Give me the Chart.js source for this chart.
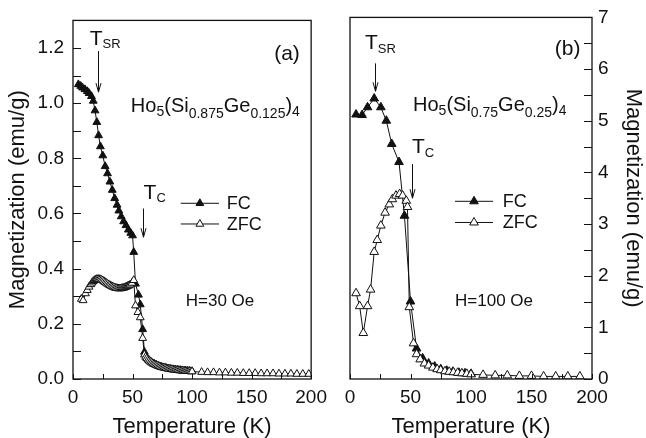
<!DOCTYPE html>
<html>
<head>
<meta charset="utf-8">
<script src="https://cdn.jsdelivr.net/npm/chart.js@4.4.1/dist/chart.umd.min.js"></script>
<style>
  html, body { margin: 0; padding: 0; background: #fff; }
  #wrap { position: relative; width: 646px; height: 438px; }
  canvas { position: absolute; top: 0; }
  #panelA { left: 0; }
  #panelB { left: 334px; }
</style>
</head>
<body>
<div id="wrap">
  <canvas id="panelA" width="334" height="438"></canvas>
  <canvas id="panelB" width="312" height="438"></canvas>
</div>
<script>
// (a) Ho5(Si0.875Ge0.125)4, H = 30 Oe
const fcTempA = [4.5, 6.5, 8, 10, 12, 13.5, 15.5, 17, 18.5, 20, 21.5, 23, 25, 27, 29, 31, 33, 35, 37, 38.5,
  40.5, 42.5, 44.5, 46.5, 48.5, 50, 51, 52.5, 55, 56.5, 58.5, 60, 62, 64, 66, 68, 70, 72, 74, 76,
  78, 80, 82, 84, 86, 88, 90, 92, 94, 96, 98, 100]
const fcMagA = [1.068, 1.062, 1.056, 1.050, 1.043, 1.036, 1.025, 1.008, 0.973, 0.931, 0.883, 0.843, 0.810, 0.771, 0.745, 0.715, 0.685, 0.655, 0.631, 0.610,
  0.589, 0.571, 0.557, 0.541, 0.529, 0.520, 0.460, 0.345, 0.305, 0.270, 0.180, 0.098, 0.077, 0.068, 0.061, 0.056, 0.051, 0.047, 0.044, 0.042,
  0.040, 0.038, 0.036, 0.035, 0.034, 0.033, 0.032, 0.031, 0.030, 0.029, 0.029, 0.028]

const zfcTempA = [7, 8.5, 10.5, 12, 13.5, 15, 16, 17, 18, 19, 20, 21, 22, 23, 24, 25, 26, 27, 28, 29,
  30, 31, 32, 33, 34, 35, 36, 37, 38, 39, 40, 41, 42, 43, 44, 45, 46, 47, 48, 49.5,
  51, 52.5, 54.5, 56.5, 58.5, 60, 61, 62, 63, 64, 65, 66, 67, 68, 69, 70, 71, 72, 73, 74,
  75, 76, 77, 78, 79, 80, 81, 82, 83, 84, 85, 86, 87, 88, 89, 90, 91, 92, 93, 94,
  95, 96, 97, 98, 99, 100, 108, 113, 118, 123, 128, 133, 138, 143, 148, 153, 158, 163, 168, 173,
  178, 183, 188, 193, 198]
const zfcMagA = [0.290, 0.285, 0.310, 0.322, 0.334, 0.343, 0.349, 0.354, 0.358, 0.360, 0.362, 0.362, 0.362, 0.361, 0.359, 0.357, 0.354, 0.351, 0.348, 0.345,
  0.342, 0.340, 0.337, 0.335, 0.333, 0.331, 0.330, 0.329, 0.328, 0.328, 0.328, 0.329, 0.330, 0.331, 0.333, 0.335, 0.337, 0.339, 0.342, 0.348,
  0.358, 0.266, 0.242, 0.223, 0.148, 0.088, 0.080, 0.075, 0.070, 0.066, 0.062, 0.059, 0.056, 0.054, 0.052, 0.050, 0.048, 0.046, 0.045, 0.043,
  0.042, 0.041, 0.040, 0.039, 0.038, 0.037, 0.036, 0.035, 0.035, 0.034, 0.033, 0.033, 0.032, 0.032, 0.031, 0.031, 0.030, 0.030, 0.029, 0.029,
  0.029, 0.028, 0.028, 0.028, 0.027, 0.027, 0.025, 0.024, 0.024, 0.023, 0.023, 0.022, 0.022, 0.021, 0.021, 0.021, 0.020, 0.020, 0.020, 0.019,
  0.019, 0.019, 0.018, 0.018, 0.018]

// (b) Ho5(Si0.75Ge0.25)4, H = 100 Oe
const fcTempB = [5, 10, 14.5, 20, 25.5, 30, 34.5, 40.5, 45, 50, 55, 60, 65, 70, 75, 80, 85, 90, 95, 100]
const fcMagB = [5.12, 5.11, 5.26, 5.43, 5.26, 5.00, 4.55, 4.20, 3.16, 1.50, 0.59, 0.40, 0.30, 0.24, 0.19, 0.16, 0.14, 0.12, 0.11, 0.10]

const zfcTempB = [5, 8, 11, 14.5, 17, 20, 22.5, 25.5, 29, 32.5, 35, 38, 41, 43.5, 46.5, 47.5, 49, 52.5, 55, 58,
  61.5, 65, 68.5, 72, 75, 78.5, 82, 85.5, 89, 92.5, 96.5, 100, 110, 120, 130, 140, 150, 160, 170, 180, 190]
const zfcMagB = [1.66, 1.41, 0.89, 1.41, 1.73, 2.46, 2.69, 2.97, 3.22, 3.38, 3.48, 3.55, 3.58, 3.55, 3.45, 3.33, 1.39, 0.69, 0.48, 0.38,
  0.30, 0.26, 0.22, 0.19, 0.17, 0.15, 0.14, 0.13, 0.12, 0.11, 0.10, 0.09, 0.08, 0.07, 0.07, 0.06, 0.06, 0.05, 0.05, 0.05, 0.05]

const FONT = '"Liberation Sans", Arial, Helvetica, sans-serif'
const INK = '#111'

function pairs(xs, ys) {
  return xs.map((x, i) => ({ x, y: ys[i] }))
}

// same geometry as Chart.js' own 'triangle' point style
function triangle(ctx, x, y, r, fill) {
  ctx.beginPath()
  ctx.moveTo(x, y - r)
  ctx.lineTo(x + r * Math.sin(2 * Math.PI / 3), y - r * Math.cos(2 * Math.PI / 3))
  ctx.lineTo(x + r * Math.sin(4 * Math.PI / 3), y - r * Math.cos(4 * Math.PI / 3))
  ctx.closePath()
  ctx.fillStyle = fill
  ctx.fill()
  ctx.stroke()
}

// text made of runs, subscripts get a smaller size and a downward shift
function drawRich(ctx, x, y, parts, align) {
  let width = 0
  parts.forEach(p => {
    ctx.font = p.size + 'px ' + FONT
    width += ctx.measureText(p.t).width
  })
  let cx = align === 'right' ? x - width : x
  ctx.textAlign = 'left'
  ctx.textBaseline = 'alphabetic'
  ctx.fillStyle = INK
  parts.forEach(p => {
    ctx.font = p.size + 'px ' + FONT
    ctx.fillText(p.t, cx, y + (p.dy || 0))
    cx += ctx.measureText(p.t).width
  })
}

// labelled ticks plus a minor one halfway between each pair
function tickValues(scale) {
  const major = scale.ticks.map(t => t.value)
  const out = []
  major.forEach((v, i) => {
    out.push(v)
    if (i < major.length - 1) out.push((v + major[i + 1]) / 2)
  })
  return out
}

function panelDecor(spec) {
  return {
    id: 'panelDecor',
    afterDraw(chart) {
      const { ctx, chartArea: a } = chart
      const xs = chart.scales.x
      const ys = chart.scales.y
      ctx.save()

      // frame
      ctx.strokeStyle = INK
      ctx.lineWidth = 1.3
      ctx.strokeRect(a.left, a.top, a.right - a.left, a.bottom - a.top)

      // ticks point inwards
      ctx.lineWidth = 1
      ctx.beginPath()
      tickValues(xs).forEach(v => {
        const px = Math.round(xs.getPixelForValue(v)) + 0.5
        ctx.moveTo(px, a.bottom)
        ctx.lineTo(px, a.bottom - 5)
      })
      const edge = spec.yRight ? a.right : a.left
      const dir = spec.yRight ? -1 : 1
      tickValues(ys).forEach(v => {
        const py = Math.round(ys.getPixelForValue(v)) + 0.5
        ctx.moveTo(edge, py)
        ctx.lineTo(edge + dir * 8, py)
      })
      ctx.stroke()

      // arrows marking the transitions
      spec.arrows.forEach(ar => {
        const px = Math.round(xs.getPixelForValue(ar.x)) + 0.5
        const y1 = ys.getPixelForValue(ar.from)
        const y2 = ys.getPixelForValue(ar.to)
        ctx.beginPath()
        ctx.moveTo(px, y1)
        ctx.lineTo(px, y2)
        ctx.moveTo(px - 2.5, y2 - 9)
        ctx.lineTo(px, y2)
        ctx.lineTo(px + 2.5, y2 - 9)
        ctx.stroke()
      })

      // labels
      spec.notes.forEach(n => {
        drawRich(ctx, xs.getPixelForValue(n.x), ys.getPixelForValue(n.y), n.parts, n.align)
      })

      // legend
      const lg = spec.legend
      const x1 = xs.getPixelForValue(lg.from)
      const x2 = xs.getPixelForValue(lg.to)
      const tx = xs.getPixelForValue(lg.textAt)
      lg.rows.forEach(row => {
        const py = ys.getPixelForValue(row.y)
        ctx.strokeStyle = INK
        ctx.lineWidth = 1
        ctx.beginPath()
        ctx.moveTo(x1, py)
        ctx.lineTo(x2, py)
        ctx.stroke()
        triangle(ctx, (x1 + x2) / 2, py, spec.pointRadius, row.fill)
        ctx.font = '18px ' + FONT
        ctx.fillStyle = INK
        ctx.textAlign = 'left'
        ctx.textBaseline = 'middle'
        ctx.fillText(row.label, tx, py + 1)
      })

      ctx.restore()
    }
  }
}

function makeChart(id, spec) {
  const pointSet = (fill) => ({
    showLine: true,
    borderColor: INK,
    borderWidth: 1,
    tension: 0,
    pointStyle: 'triangle',
    pointRadius: spec.pointRadius,
    pointBorderWidth: 1,
    pointBorderColor: INK,
    pointBackgroundColor: fill,
    backgroundColor: fill
  })

  const yTicks = {
    stepSize: spec.yStep,
    includeBounds: false,
    padding: spec.yRight ? 6 : 9,
    color: INK,
    font: { size: 19, family: FONT },
    callback: v => v.toFixed(spec.yDigits)
  }

  return new Chart(document.getElementById(id), {
    type: 'line',
    data: {
      datasets: [
        Object.assign({ label: 'ZFC', data: pairs(spec.zfcT, spec.zfcM), order: 0 }, pointSet('#fff')),
        Object.assign({ label: 'FC', data: pairs(spec.fcT, spec.fcM), order: 1 }, pointSet(INK))
      ]
    },
    options: {
      responsive: false,
      animation: false,
      events: [],
      layout: { padding: spec.padding },
      plugins: { legend: { display: false }, tooltip: { enabled: false } },
      scales: {
        x: {
          type: 'linear',
          position: 'bottom',
          min: 0,
          max: 200,
          grid: { display: false, drawTicks: false },
          border: { display: false },
          ticks: { stepSize: 50, padding: 7, maxRotation: 0, color: INK, font: { size: 19, family: FONT } },
          title: {
            display: true,
            text: 'Temperature (K)',
            color: INK,
            font: { size: 22, family: FONT, lineHeight: 1 },
            padding: { top: 0, bottom: 0 }
          },
          afterFit(scale) { scale.height = 59 }
        },
        y: {
          type: 'linear',
          position: spec.yRight ? 'right' : 'left',
          min: 0,
          max: spec.yMax,
          grid: { display: false, drawTicks: false },
          border: { display: false },
          ticks: yTicks,
          title: {
            display: true,
            text: 'Magnetization (emu/g)',
            color: INK,
            font: { size: 22, family: FONT, lineHeight: 1 },
            padding: { top: spec.yRight ? 2 : 7, bottom: 0 }
          },
          afterFit(scale) { scale.width = spec.yWidth }
        }
      }
    },
    plugins: [panelDecor(spec)]
  })
}

const sub = (t, dy) => ({ t, size: 14, dy })
const big = (t) => ({ t, size: 20 })

makeChart('panelA', {
  fcT: fcTempA, fcM: fcMagA, zfcT: zfcTempA, zfcM: zfcMagA,
  yMax: 1.3, yStep: 0.2, yDigits: 1, yRight: false, yWidth: 73,
  padding: { left: 0, right: 18, top: 16, bottom: 0 },
  pointRadius: 4.5,
  arrows: [
    { x: 20.6, from: 1.189, to: 1.04 },
    { x: 58.7, from: 0.618, to: 0.514 }
  ],
  notes: [
    { x: 190.5, y: 1.157, align: 'right', parts: [{ t: '(a)', size: 21 }] },
    { x: 14, y: 1.211, parts: [{ t: 'T', size: 21 }, { t: 'SR', size: 13, dy: 3 }] },
    { x: 59.3, y: 0.654, parts: [{ t: 'T', size: 21 }, { t: 'C', size: 13, dy: 3 }] },
    { x: 48.6, y: 0.967, parts: [big('Ho'), sub('5', 4), big('(Si'), sub('0.875', 6), big('Ge'), sub('0.125', 6), big(')'), sub('4', 4)] },
    { x: 94.7, y: 0.266, parts: [{ t: 'H=30 Oe', size: 17 }] }
  ],
  legend: {
    from: 90.5, to: 122.6, textAt: 129.2,
    rows: [
      { label: 'FC', y: 0.637, fill: INK },
      { label: 'ZFC', y: 0.562, fill: '#fff' }
    ]
  }
})

makeChart('panelB', {
  fcT: fcTempB, fcM: fcMagB, zfcT: zfcTempB, zfcM: zfcMagB,
  yMax: 7, yStep: 1, yDigits: 0, yRight: true, yWidth: 54,
  padding: { left: 16, right: 0, top: 16, bottom: 0 },
  pointRadius: 5,
  arrows: [
    { x: 20.7, from: 6.11, to: 5.57 },
    { x: 51.5, from: 4.16, to: 3.5 }
  ],
  notes: [
    { x: 190.4, y: 6.27, align: 'right', parts: [{ t: '(b)', size: 21 }] },
    { x: 12.4, y: 6.38, parts: [{ t: 'T', size: 21 }, { t: 'SR', size: 13, dy: 4 }] },
    { x: 51.2, y: 4.38, parts: [{ t: 'T', size: 21 }, { t: 'C', size: 13, dy: 4 }] },
    { x: 52.1, y: 5.19, parts: [big('Ho'), sub('5', 4), big('(Si'), sub('0.75', 6), big('Ge'), sub('0.25', 6), big(')'), sub('4', 4)] },
    { x: 86.8, y: 1.41, parts: [{ t: 'H=100 Oe', size: 17 }] }
  ],
  legend: {
    from: 86.8, to: 118.2, textAt: 126.2,
    rows: [
      { label: 'FC', y: 3.44, fill: INK },
      { label: 'ZFC', y: 3.03, fill: '#fff' }
    ]
  }
})
</script>
</body>
</html>
